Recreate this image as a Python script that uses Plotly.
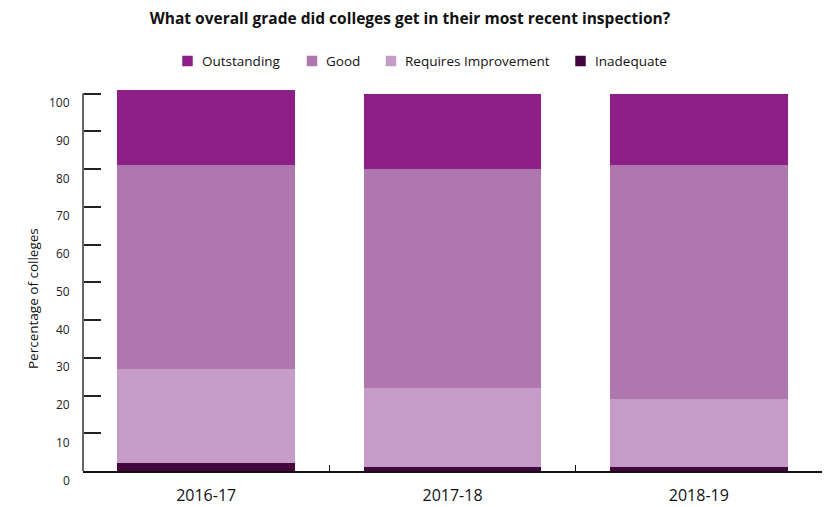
import plotly.graph_objects as go

# Share of colleges by most recent inspection grade (%)
years = ["2016-17", "2017-18", "2018-19"]
inadequate = [2, 1, 1]
requires_improvement = [25, 21, 18]
good = [54, 58, 62]
outstanding = [20, 20, 19]

y_ticks = [0, 10, 20, 30, 40, 50, 60, 70, 80, 90, 100]

FONT = "Open Sans"
colors = {
    "Outstanding": "#8E1F86",
    "Good": "#AF77AD",
    "Requires Improvement": "#C59BC7",
    "Inadequate": "#44063F",
}

W, H = 828, 507
M_L, M_R, M_T, M_B = 83, 6, 86, 36
PLOT_W = W - M_L - M_R
PLOT_H = H - M_T - M_B


def px_x(px):
    """Horizontal pixel position -> paper coordinate."""
    return (px - M_L) / PLOT_W


def px_y(py):
    """Vertical pixel position (from top) -> paper coordinate."""
    return (H - M_B - py) / PLOT_H


fig = go.Figure()
# stacked from the bottom up
series = [
    ("Inadequate", inadequate),
    ("Requires Improvement", requires_improvement),
    ("Good", good),
    ("Outstanding", outstanding),
]
for name, vals in series:
    fig.add_trace(go.Bar(
        x=years, y=vals, name=name, showlegend=False,
        marker=dict(color=colors[name], line=dict(width=0)),
        hoverinfo="x+y+name",
    ))

annotations = []
shapes = []

# y tick labels sit slightly below their tick marks
for t in y_ticks:
    annotations.append(dict(
        x=0, xref="paper", y=t, yref="y", text=str(t), showarrow=False,
        xanchor="right", yanchor="middle", xshift=-11, yshift=-9,
        font=dict(family=FONT, size=12, color="#222222"),
    ))

# y axis title
annotations.append(dict(
    x=px_x(33), xref="paper", y=px_y(299), yref="paper",
    text="Percentage of colleges", showarrow=False, textangle=-90,
    xanchor="center", yanchor="middle",
    font=dict(family=FONT, size=13.5, color="#111111"),
))

# legend: square swatch + label, in a single row
legend_items = [
    ("Outstanding", 187.5, 200),
    ("Good", 312, 324),
    ("Requires Improvement", 391, 403),
    ("Inadequate", 580.5, 593),
]
LEG_Y = 61
for name, sq_cx, text_x in legend_items:
    shapes.append(dict(
        type="rect", xref="paper", yref="paper",
        x0=px_x(sq_cx - 5.25), x1=px_x(sq_cx + 5.25),
        y0=px_y(LEG_Y + 5.25), y1=px_y(LEG_Y - 5.25),
        fillcolor=colors[name], line=dict(width=0),
    ))
    annotations.append(dict(
        x=px_x(text_x), xref="paper", y=px_y(LEG_Y), yref="paper",
        text=name, showarrow=False, xanchor="left", yanchor="middle",
        font=dict(family=FONT, size=13.5, color="#111111"),
    ))

# y axis line stops at 100
shapes.append(dict(
    type="line", xref="paper", yref="y", x0=0, x1=0, y0=0, y1=100,
    line=dict(color="#666666", width=2),
))

fig.update_layout(
    width=W, height=H,
    barmode="stack", bargap=0.28,
    paper_bgcolor="white", plot_bgcolor="white",
    margin=dict(l=M_L, r=M_R, t=M_T, b=M_B, autoexpand=False),
    showlegend=False,
    title=dict(
        text="<b>What overall grade did colleges get in their most recent inspection?</b>",
        x=410 / W, xanchor="center", y=1 - 19 / H, yanchor="middle",
        font=dict(family=FONT, size=15.5, color="#111111"),
    ),
    xaxis=dict(
        type="category", range=[-0.5, 2.5], automargin=False,
        showline=True, linecolor="#111111", linewidth=1.5,
        ticks="inside", tickson="boundaries", ticklen=6, tickcolor="#111111",
        tickwidth=1, showgrid=False,
        tickfont=dict(family=FONT, size=16, color="#111111"),
        ticklabelstandoff=9,
    ),
    yaxis=dict(
        range=[0, 102], automargin=False,
        showline=False, showgrid=False, zeroline=False,
        tickvals=y_ticks, showticklabels=False,
        ticks="inside", ticklen=18, tickcolor="#222222", tickwidth=1.5,
    ),
    annotations=annotations,
    shapes=shapes,
    font=dict(family=FONT),
)

fig.write_html("out.html")
